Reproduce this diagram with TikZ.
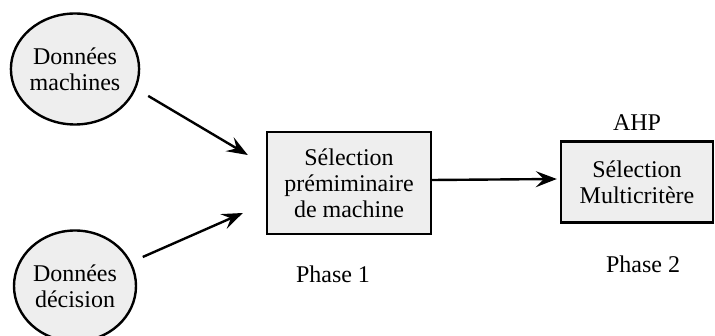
\documentclass[tikz,border=0pt]{standalone}
\usepackage{fontspec}
\setmainfont{Liberation Serif}
\usetikzlibrary{positioning, arrows.meta, shapes.geometric}
\definecolor{boxgray}{HTML}{EEEEEE}
\tikzset{%
  flow/.style={-{Stealth[length=21pt, width=16pt, inset=8pt]}, line width=2.4pt},
  data/.style={draw, ellipse, line width=2.4pt, fill=boxgray, inner sep=0pt,
    minimum width=122pt, minimum height=111pt, align=center},
  stage/.style={draw, rectangle, line width=2.4pt, fill=boxgray, align=center},
  lbl/.style={inner sep=0pt}
}

\begin{document}
\begin{tikzpicture}[x=1pt, y=1pt, font=\fontsize{24}{26}\selectfont]
        \useasboundingbox (0,0) rectangle (715,-336);
        \node[data] (dm) at (75,-69)  {Données\\machines};
        \node[data] (dd) at (75,-286) {Données\\décision};
        \node[stage, minimum width=164pt, minimum height=102pt] (sp) at (349,-183)
          {Sélection\\prémiminaire\\de machine};
        \node[stage, minimum width=152pt, minimum height=81pt] (ms) at (637,-182)
          {Sélection\\Multicritère};
        \node[lbl] (ahp) [above = 10pt of ms]    {AHP};
        \node[lbl] (ph1) at (333,-274) {Phase 1};
        \node[lbl] (ph2) at (643,-264) {Phase 2};
        \draw[flow] ([xshift=13pt,yshift=-5pt]dm.-20) -- ([xshift=-18pt,yshift=28pt]sp.west);
        \draw[flow] ([xshift=10pt,yshift=8pt]dd.20) -- ([xshift=-23pt,yshift=-30pt]sp.west);
        \draw[flow] ([yshift=3pt]sp.east) -- ([xshift=-3pt,yshift=3pt]ms.west);
      \end{tikzpicture}
\end{document}
